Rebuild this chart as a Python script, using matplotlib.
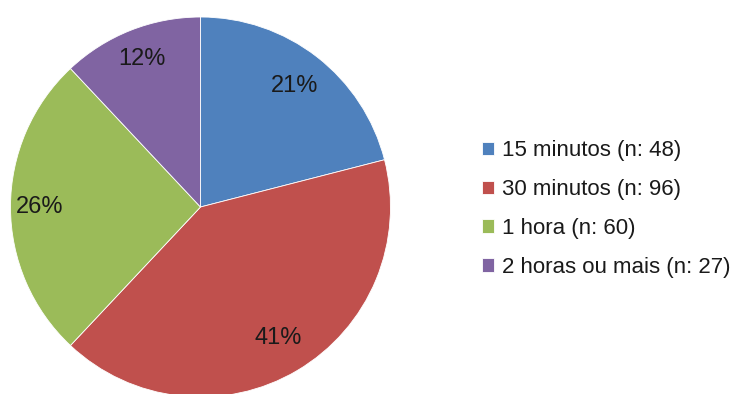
import matplotlib.pyplot as plt

# tempo de deslocamento - share of respondents
labels = ['15 minutos (n: 48)', '30 minutos (n: 96)', '1 hora (n: 60)', '2 horas ou mais (n: 27)']
percents = [21, 41, 26, 12]
colors = ['#4F81BD', '#C0504D', '#9BBB59', '#8064A2']

plt.rcParams['font.family'] = ['Liberation Sans', 'DejaVu Sans']

fig = plt.figure(figsize=(7.4, 3.94), dpi=100)
fig.patch.set_facecolor('white')

# square axes so that radius 1 = 190 px, centred at (200.5, 207) from top-left
ax = fig.add_axes([10.5 / 740, -3 / 394, 380 / 740, 380 / 394])
wedges, texts, autotexts = ax.pie(
    percents, colors=colors, startangle=90, counterclock=False,
    autopct=lambda p: f'{p:.0f}%', pctdistance=0.82, radius=1,
    wedgeprops=dict(edgecolor='white', linewidth=0.6),
    textprops=dict(fontsize=17, color='#1a1a1a'))
ax.set_xlim(-1, 1)
ax.set_ylim(-1, 1)

# push each percentage label a little in or out from the centre
for t, d in zip(autotexts, [0.805, 0.80, 0.845, 0.84]):
    x, y = t.get_position()
    t.set_position((x * d / 0.82, y * d / 0.82))

fig.legend(wedges, labels, loc='center left', bbox_to_anchor=(482 / 740, 185 / 394),
           frameon=False, fontsize=16, handlelength=0.55, handleheight=0.55,
           handletextpad=0.35, labelspacing=0.8, borderpad=0, borderaxespad=0,
           labelcolor='#1a1a1a')

fig.savefig('out.png', dpi=100)
